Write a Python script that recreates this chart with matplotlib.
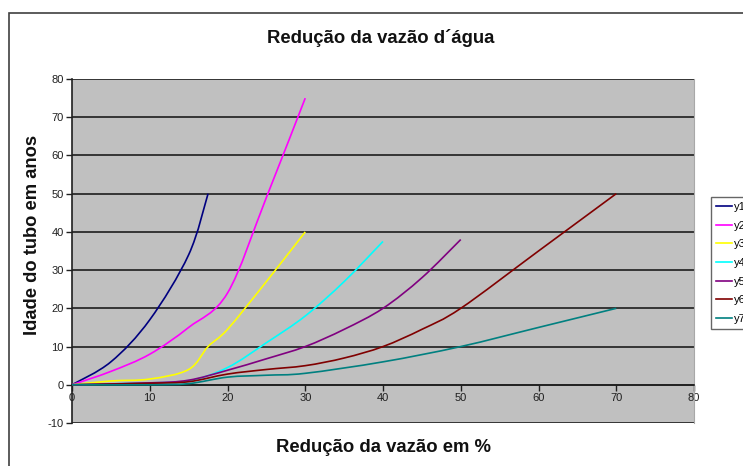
import matplotlib
matplotlib.use("Agg")
import matplotlib.pyplot as plt
from matplotlib.path import Path
from matplotlib.patches import PathPatch, Rectangle
from matplotlib.lines import Line2D
import numpy as np

plt.rcParams['font.family'] = ['Liberation Sans', 'DejaVu Sans']
plt.rcParams['axes.unicode_minus'] = False

# Redução da vazão (%) vs idade do tubo (anos) for each series
series_names = ["y1", "y2", "y3", "y4", "y5", "y6", "y7"]

y1_x = [0, 5, 10, 15, 17.5]
y1_y = [0, 6, 17, 34, 50]

y2_x = [0, 5, 10, 15, 20, 25, 30]
y2_y = [0, 3.5, 8, 15, 24, 49, 75]

y3_x = [0, 5, 10, 15, 17.5, 20, 25, 30]
y3_y = [0, 1, 1.5, 4, 10, 14.5, 27, 40]

y4_x = [0, 10, 15, 20, 25, 30, 35, 40]
y4_y = [0, 0.5, 1, 4.5, 11, 18, 27, 37.5]

y5_x = [0, 10, 15, 20, 25, 30, 35, 40, 45, 50]
y5_y = [0, 0.5, 1.2, 3.8, 6.8, 10, 14.5, 20, 28, 38]

y6_x = [0, 10, 15, 20, 25, 30, 35, 40, 45, 50, 60, 70]
y6_y = [0, 0.4, 0.8, 2.8, 4, 5, 7, 10, 14.5, 20, 35, 50]

y7_x = [0, 10, 15, 20, 25, 30, 40, 50, 60, 70]
y7_y = [0, 0, 0.3, 2, 2.5, 3, 6, 10, 15, 20]

series_x = [y1_x, y2_x, y3_x, y4_x, y5_x, y6_x, y7_x]
series_y = [y1_y, y2_y, y3_y, y4_y, y5_y, y6_y, y7_y]
colors = ["#000080", "#FF00FF", "#FFFF00", "#00FFFF", "#800080", "#800000", "#008080"]

x_ticks = [0, 10, 20, 30, 40, 50, 60, 70, 80]
y_ticks = [-10, 0, 10, 20, 30, 40, 50, 60, 70, 80]


def smooth_path(xs, ys):
    """Cubic Bezier path through the points (Catmull-Rom style tangents)."""
    p = np.column_stack([xs, ys]).astype(float)
    n = len(p)
    verts = [p[0]]
    codes = [Path.MOVETO]
    for i in range(n - 1):
        p_prev = p[i - 1] if i > 0 else p[i]
        p_next2 = p[i + 2] if i + 2 < n else p[i + 1]
        c1 = p[i] + (p[i + 1] - p_prev) / 6.0
        c2 = p[i + 1] - (p_next2 - p[i]) / 6.0
        verts += [c1, c2, p[i + 1]]
        codes += [Path.CURVE4] * 3
    return Path(verts, codes)


fig = plt.figure(figsize=(7.43, 4.66), dpi=100)
fig.patch.set_facecolor("white")

# chart border
fig.add_artist(Rectangle((9 / 743, -0.05), 1.0, 1 - 13 / 466 + 0.05,
                         transform=fig.transFigure, fill=False,
                         edgecolor="#404040", lw=1.2))

ax = fig.add_axes([72 / 743, 1 - 423 / 466, 622 / 743, 344 / 466])
ax.set_facecolor("#C0C0C0")
ax.set_xlim(0, 80)
ax.set_ylim(-10, 80)

for yv in y_ticks:
    ax.axhline(yv, color="#2a2a2a", lw=1.3, zorder=1)

handles = []
for name, xs, ys, c in zip(series_names, series_x, series_y, colors):
    patch = PathPatch(smooth_path(xs, ys), fill=False, edgecolor=c, lw=1.2,
                      zorder=3, capstyle="butt")
    ax.add_patch(patch)
    handles.append(Line2D([], [], color=c, lw=1.2, label=name))

ax.spines["top"].set_visible(False)
ax.spines["right"].set_color("#a8a8a8")
ax.spines["left"].set_color("#202020")
ax.spines["left"].set_linewidth(1.2)
ax.spines["bottom"].set_position(("data", 0))
ax.spines["bottom"].set_color("#202020")
ax.spines["bottom"].set_linewidth(1.2)

ax.set_xticks(x_ticks)
ax.set_yticks(y_ticks)
ax.tick_params(axis="both", direction="out", length=4, width=1, color="#202020",
               labelsize=8, labelcolor="#202020", pad=2)

fig.text(381 / 743, 1 - 38 / 466, "Redução da vazão d´água", ha="center",
         va="center", fontsize=13.3, fontweight="bold", color="#111111")
fig.text(384 / 743, 1 - 447 / 466, "Redução da vazão em %", ha="center",
         va="center", fontsize=13.3, fontweight="bold", color="#111111")
fig.text(33 / 743, 1 - 235 / 466, "Idade do tubo em anos", ha="center",
         va="center", rotation=90, fontsize=13.2, fontweight="bold",
         color="#111111")

leg = fig.legend(handles=handles, loc="upper left",
                 bbox_to_anchor=(711 / 743, 1 - 197 / 466), borderaxespad=0,
                 fontsize=8, frameon=True, fancybox=False, handlelength=1.4,
                 handletextpad=0.25, labelspacing=0.78, borderpad=0.45)
leg.get_frame().set_edgecolor("#404040")
leg.get_frame().set_linewidth(1.0)

fig.savefig("out.png", dpi=100)
